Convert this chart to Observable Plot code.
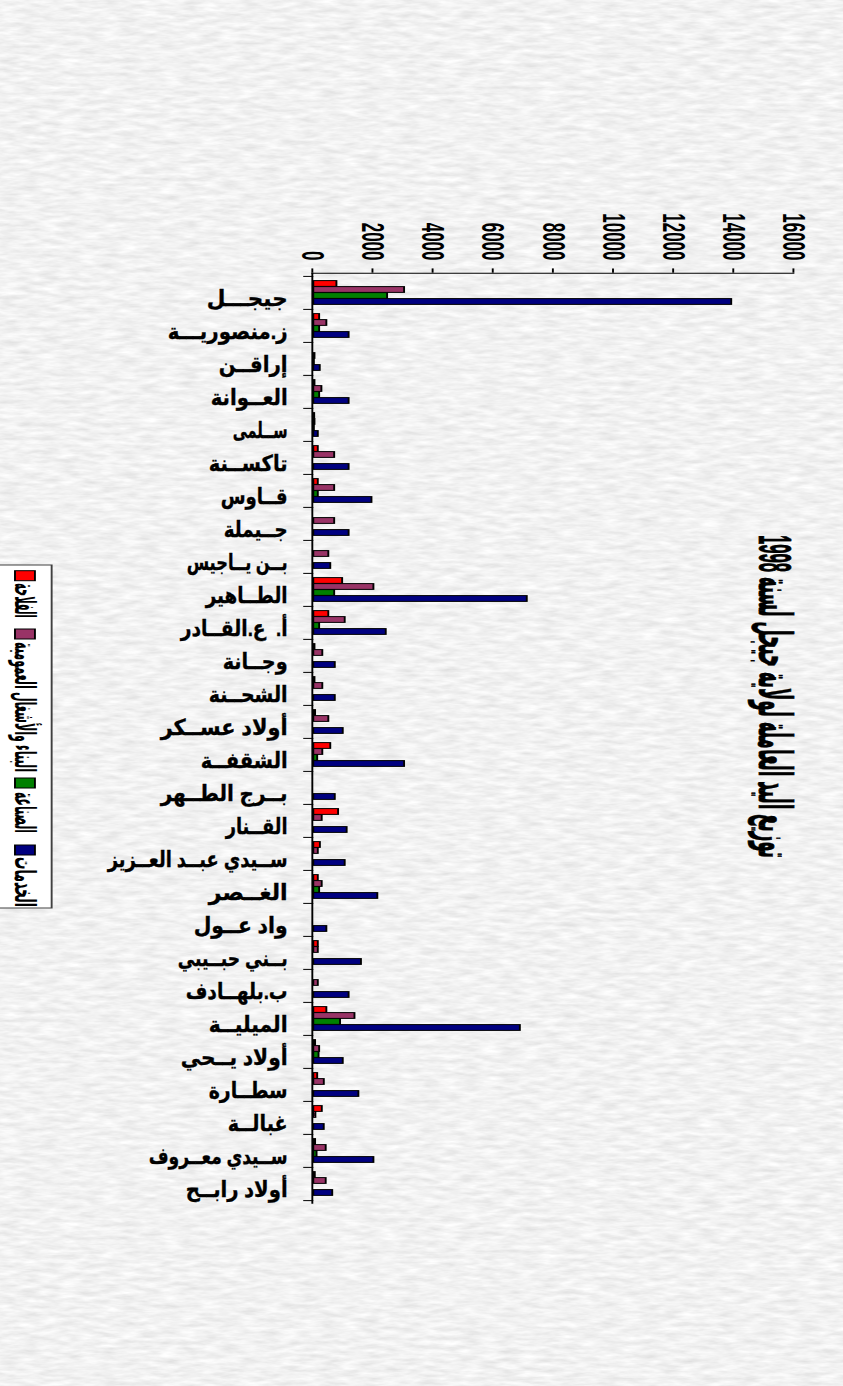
<!DOCTYPE html>
<html><head><meta charset="utf-8">
<script src="https://cdn.jsdelivr.net/npm/d3@7"></script>
<script src="https://cdn.jsdelivr.net/npm/@observablehq/plot@0.6"></script>
<style>
html,body{margin:0;padding:0;width:843px;height:1386px;overflow:hidden;background:#e3e3e3;}
#bg{position:absolute;left:0;top:0;}
#wrap{position:absolute;left:0;top:0;width:1386px;height:444px;transform-origin:0 0;transform:matrix(0,1,-1.9,0,843,0);}
#wrap svg{position:absolute;left:0;top:0;overflow:visible;}
</style></head><body>
<svg id="bg" width="843" height="1386">
  <filter id="marble" x="0" y="0" width="100%" height="100%">
    <feTurbulence type="fractalNoise" baseFrequency="0.05 0.22" numOctaves="3" seed="7"/>
    <feColorMatrix type="matrix" values="0.32 0 0 0 0.725  0.32 0 0 0 0.725  0.32 0 0 0 0.725  0 0 0 0 1"/>
  </filter>
  <rect width="843" height="1386" filter="url(#marble)"/>
</svg>
<div id="wrap"></div>
<script>
// ---- data ----
const categories = [
"جيجـــل","ز.منصوريـــة","إراقــن","العــوانة","ســلمى","تاكســنة","قــاوس",
"جــيملة","بــن يــاجيس","الطــاهير","أ.  ع.القــادر","وجــانة","الشحــنة",
"أولاد عســكر","الشقفــة","بــرج الطــهر","القــنار","ســيدي عبــد العــزيز",
"الغــصر","واد عــول","بــني حبــيبي","ب.بلهــادف","الميليــة","أولاد يــحي",
"سطــارة","غبالــة","ســيدي معــروف","أولاد رابــح"];
const seriesNames = ["الفلاحة","البناء والأشغال العمومية","الصناعة","الخدمات"];
const seriesColors = ["#ff0000","#993366","#008000","#000080"];
const agriculture  = [770,195,0,40,30,150,150,0,0,960,500,40,40,60,565,0,825,220,150,0,150,0,435,60,130,283,60,50];
const construction = [3020,435,40,270,40,695,695,695,500,2000,1045,300,300,500,300,0,280,150,280,0,150,150,1370,195,350,70,413,413];
const industry     = [2455,195,20,195,20,0,150,0,0,695,195,0,0,0,130,0,0,0,195,0,0,0,890,175,0,0,109,0];
const services     = [13900,1175,215,1175,150,1175,1935,1175,565,7100,2410,715,715,980,3020,715,1110,1045,2130,435,1585,1175,6870,980,1500,348,2000,630];
const yTicks = [0,2000,4000,6000,8000,10000,12000,14000,16000];
const titleText = "توزيع اليد العاملة لولاية جيجل لسنة 1998";

// ---- layout / style (not data) ----
const W = 1386, H = 444, STRETCH = 1.9;
const mL = 272.7, mR = W - 1202.7, mT = 25.6, mB = H - 278.8;
const bw = (W - mL - mR) / categories.length;
const barW = 6, groupOff = 4.6;
const FONT = "'Liberation Sans', 'DejaVu Sans', sans-serif";
// on-screen widths of the category labels, in page pixels
const labelScreenWidth = [81,120,69,77,55,79,67,64,101,82,107,65,79,127,87,127,62,180,79,94,110,102,79,107,79,60,139,102];

// ---- build ----
const seriesValues = [agriculture, construction, industry, services];
const rows = [];
seriesValues.forEach((vals, s) => vals.forEach((v, i) => rows.push({cat: categories[i], series: seriesNames[s], value: v})));

const barMarks = seriesNames.map((name, s) => Plot.barY(rows.filter(d => d.series === name), {
  x: "cat", y: "value", fill: "series", stroke: "black", strokeWidth: 1,
  insetLeft: groupOff + barW * s, insetRight: bw - groupOff - barW * (s + 1)
}));

const chart = Plot.plot({
  width: W, height: H,
  marginLeft: mL, marginRight: mR, marginTop: mT, marginBottom: mB,
  style: {background: "transparent", fontFamily: FONT, color: "black", overflow: "visible"},
  x: {type: "band", domain: categories, padding: 0, label: null},
  y: {domain: [0, 16000], label: null},
  color: {domain: seriesNames, range: seriesColors},
  marks: [
    ...barMarks,
    Plot.axisY({ticks: yTicks, tickSize: 4.3, tickPadding: 8.4, tickFormat: d => String(d), fontSize: 17, fontWeight: "bold", label: null}),
    Plot.axisX({tickSize: 5.3, tickFormat: () => "", dx: -bw / 2, label: null}),
    Plot.axisX({ticks: [categories[categories.length - 1]], tickSize: 5.3, tickFormat: () => "", dx: bw / 2, label: null}),
    Plot.axisX({tickSize: 0, tickPadding: 13, tickRotate: -90, textAnchor: "end", lineAnchor: "middle", fontSize: 22, fontWeight: "bold", dx: 6, label: null}),
    Plot.frame({anchor: "left", stroke: "black"}),
    Plot.frame({anchor: "bottom", stroke: "black"})
  ]
});
const wrap = document.getElementById("wrap");
wrap.appendChild(chart);

// fit the category labels to their on-screen widths and make them heavier
d3.select(chart).selectAll("text").each(function () {
  const i = categories.indexOf(this.textContent);
  if (i >= 0) {
    this.setAttribute("textLength", labelScreenWidth[i] / STRETCH);
    this.setAttribute("lengthAdjust", "spacingAndGlyphs");
    this.setAttribute("stroke", "black");
    this.setAttribute("stroke-width", 0.35);
  }
});

// ---- title + legend overlay ----
const ov = d3.create("svg").attr("width", W).attr("height", H)
  .style("font-family", FONT).style("font-weight", "bold");
ov.append("text").attr("x", 696.5).attr("y", 35.8).attr("dy", "0.35em")
  .attr("text-anchor", "middle").attr("direction", "rtl")
  .attr("font-size", 24).attr("textLength", 323).attr("lengthAdjust", "spacingAndGlyphs")
  .attr("stroke", "black").attr("stroke-width", 0.4)
  .text(titleText);
const lg = ov.append("g");
lg.append("rect").attr("x", 565).attr("y", 416.5).attr("width", 343).attr("height", 40)
  .attr("fill", "white").attr("stroke", "#404040").attr("stroke-width", 1);
const sqX = [570.7, 629, 778, 845];
const txC = [600.5, 707, 812.5, 882];
const txL = [35, 130, 41, 50];
seriesNames.forEach((name, s) => {
  lg.append("rect").attr("x", sqX[s]).attr("y", 425.3).attr("width", 10).attr("height", 10.5)
    .attr("fill", seriesColors[s]).attr("stroke", "black").attr("stroke-width", 1);
  lg.append("text").attr("x", txC[s]).attr("y", 430.5).attr("dy", "0.35em")
    .attr("text-anchor", "middle").attr("direction", "rtl").attr("font-size", 15)
    .attr("textLength", txL[s]).attr("lengthAdjust", "spacingAndGlyphs").text(name);
});
wrap.appendChild(ov.node());
</script></body></html>
